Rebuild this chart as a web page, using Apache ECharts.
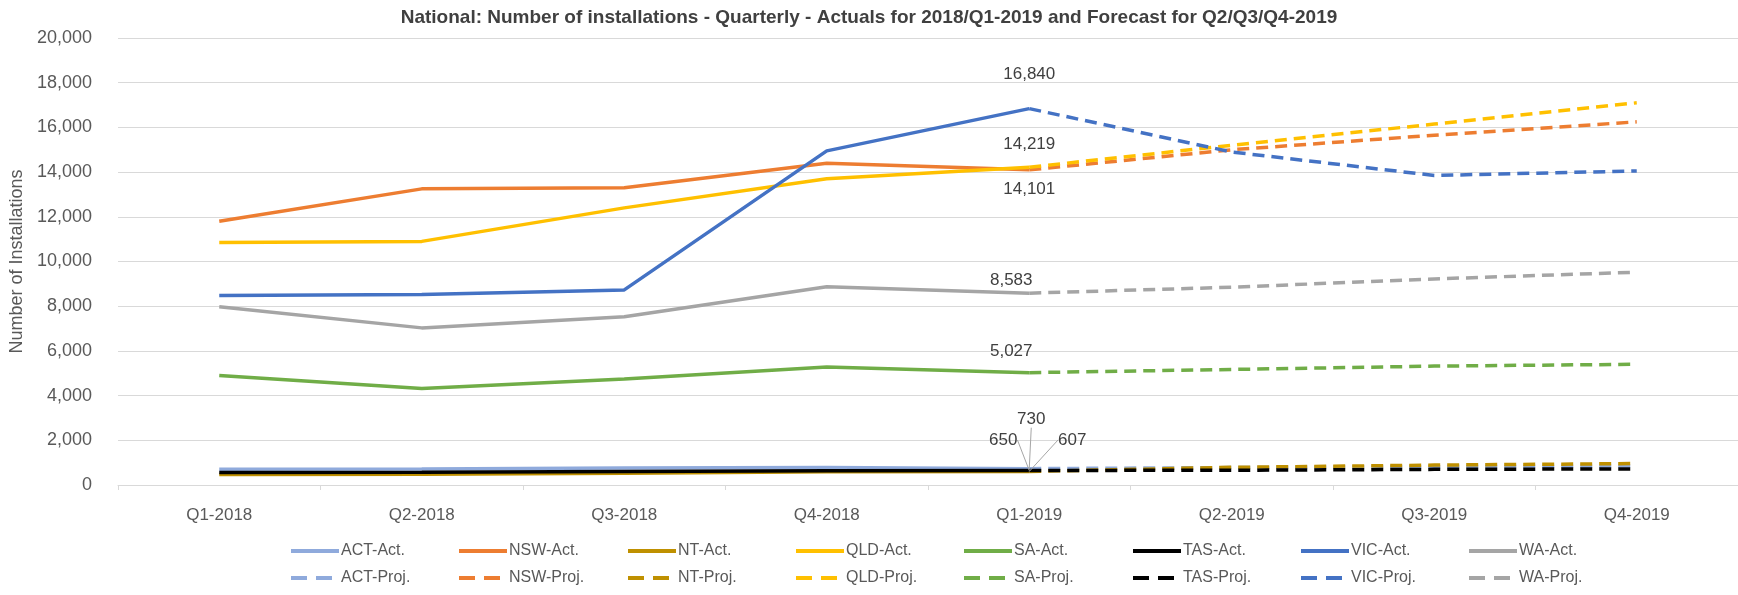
<!DOCTYPE html>
<html>
<head>
<meta charset="utf-8">
<script src="https://cdn.jsdelivr.net/npm/echarts@6/dist/echarts.min.js"></script>
<style>
html,body{margin:0;padding:0;background:#fff;}
#chart{width:1738px;height:595px;}
</style>
</head>
<body>
<div id="chart"></div>
<script>
const titleText = 'National: Number of installations - Quarterly - Actuals for 2018/Q1-2019 and Forecast for Q2/Q3/Q4-2019';
const yAxisName = 'Number of Installations';
const categories = ['Q1-2018','Q2-2018','Q3-2018','Q4-2018','Q1-2019','Q2-2019','Q3-2019','Q4-2019'];
const states = ['ACT','NSW','NT','QLD','SA','TAS','VIC','WA'];
const colors = ['#8FAADC','#ED7D31','#BF9000','#FFC000','#70AD47','#000000','#4472C4','#A5A5A5'];

// Actuals Q1-2018 .. Q1-2019
const actACT = [700, 720, 760, 780, 730];
const actNSW = [11800, 13250, 13300, 14400, 14101];
const actNT  = [470, 480, 530, 590, 607];
const actQLD = [10850, 10900, 12400, 13700, 14219];
const actSA  = [4900, 4320, 4740, 5280, 5027];
const actTAS = [560, 570, 600, 640, 650];
const actVIC = [8480, 8520, 8730, 14950, 16840];
const actWA  = [7980, 7030, 7530, 8870, 8583];
// Projections Q1-2019 .. Q4-2019
const projACT = [730, 780, 820, 850];
const projNSW = [14101, 15000, 15650, 16250];
const projNT  = [607, 790, 890, 960];
const projQLD = [14219, 15200, 16150, 17100];
const projSA  = [5027, 5170, 5320, 5400];
const projTAS = [650, 660, 700, 720];
const projVIC = [16840, 14900, 13850, 14050];
const projWA  = [8583, 8850, 9220, 9520];

const yTicks = {min: 0, max: 20000, interval: 2000};

const actData = [actACT, actNSW, actNT, actQLD, actSA, actTAS, actVIC, actWA];
const projData = [projACT, projNSW, projNT, projQLD, projSA, projTAS, projVIC, projWA];

// label style for the Q1-2019 value of each actual series
const labelCfg = {
  ACT: {position: 'top', distance: 5, dx: 2, dy: -36, line: true},
  NSW: {position: 'bottom', distance: 11, dx: 0, dy: 0},
  NT:  {position: 'top', distance: 5, dx: 43, dy: -18, line: true},
  QLD: {position: 'top', distance: 14, dx: 0, dy: 0},
  SA:  {position: 'top', distance: 13, dx: -18, dy: 0},
  TAS: {position: 'top', distance: 5, dx: -26, dy: -17, line: true},
  VIC: {position: 'top', distance: 26, dx: 0, dy: 0},
  WA:  {position: 'top', distance: 4, dx: -18, dy: 0}
};

const fontFam = '"Liberation Sans", Arial, sans-serif';
const dashPattern = [12, 7];
const series = [];
states.forEach((s, i) => {
  const cfg = labelCfg[s];
  const last = actData[i].length - 1;
  const data = categories.map((c, k) => {
    if (k > last) return '-';
    if (k === last) {
      return {
        value: actData[i][k],
        symbol: 'circle', symbolSize: 0.01,
        label: {
          show: true, position: cfg.position, distance: cfg.distance,
          color: '#404040', fontSize: 17, fontFamily: fontFam,
          formatter: p => p.value.toLocaleString('en-US')
        }
      };
    }
    return {value: actData[i][k], symbol: 'none'};
  });
  series.push({
    name: s + '-Act.', type: 'line', data: data,
    symbol: 'circle', symbolSize: 0.01, showSymbol: true, smooth: false,
    lineStyle: {color: colors[i], width: 3.5},
    itemStyle: {color: colors[i]},
    labelLayout: {dx: cfg.dx, dy: cfg.dy},
    labelLine: {show: !!cfg.line, lineStyle: {color: '#A6A6A6', width: 1}},
    emphasis: {disabled: true}
  });
});
states.forEach((s, i) => {
  const start = categories.length - projData[i].length;
  const data = categories.map((c, k) => k < start ? '-' : projData[i][k - start]);
  series.push({
    name: s + '-Proj.', type: 'line', data: data,
    symbol: 'none',
    lineStyle: {color: colors[i], width: 3.5, type: dashPattern},
    itemStyle: {color: colors[i]},
    emphasis: {disabled: true}
  });
});

// one legend entry per component so that the entries sit on an even pitch
const legends = [];
const legendRows = [{suffix: '-Act.', top: 538, dashed: false}, {suffix: '-Proj.', top: 565, dashed: true}];
legendRows.forEach(row => {
  states.forEach((s, i) => {
    legends.push({
      orient: 'horizontal', left: Math.round(284 + i * 168.3), top: row.top,
      itemWidth: 48, itemHeight: 16, itemGap: 0,
      itemStyle: {opacity: 0},
      lineStyle: {width: 4, type: row.dashed ? [16, 9] : 'solid'},
      textStyle: {color: '#595959', fontSize: 16, fontFamily: fontFam, padding: [0, 0, 0, -3]},
      selectedMode: false,
      data: [s + row.suffix]
    });
  });
});

const chart = echarts.init(document.getElementById('chart'), null, {renderer: 'canvas'});
chart.setOption({
  animation: false,
  backgroundColor: '#ffffff',
  title: {
    text: titleText, left: 'center', top: 3,
    textStyle: {color: '#404040', fontSize: 19, fontWeight: 'bold', fontFamily: fontFam}
  },
  grid: {left: 113, top: 38, width: 1632, height: 447, containLabel: false},
  legend: legends,
  xAxis: {
    type: 'category', data: categories, boundaryGap: true,
    axisLine: {lineStyle: {color: '#D9D9D9', width: 1}},
    axisTick: {show: true, length: 5, lineStyle: {color: '#D9D9D9'}},
    axisLabel: {color: '#595959', fontSize: 17, fontFamily: fontFam, margin: 22}
  },
  yAxis: {
    type: 'value', min: yTicks.min, max: yTicks.max, interval: yTicks.interval,
    name: yAxisName, nameLocation: 'middle', nameGap: 92, nameRotate: 90,
    nameTextStyle: {color: '#595959', fontSize: 18, fontFamily: fontFam},
    axisLine: {show: false}, axisTick: {show: false},
    splitLine: {lineStyle: {color: '#D9D9D9', width: 1}},
    axisLabel: {color: '#595959', fontSize: 18, fontFamily: fontFam, margin: 26,
      formatter: v => v.toLocaleString('en-US')}
  },
  series: series
});
</script>
</body>
</html>
